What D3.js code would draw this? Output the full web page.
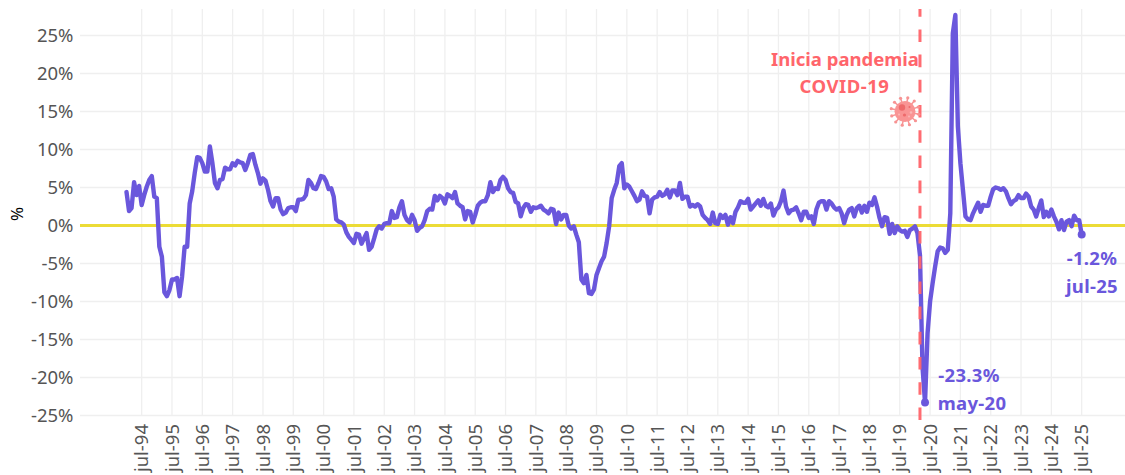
<!DOCTYPE html>
<html><head><meta charset="utf-8">
<script src="https://cdn.jsdelivr.net/npm/d3@7"></script>
<style>html,body{margin:0;padding:0;background:#fff;overflow:hidden}svg{display:block}text{font-family:"Noto Sans",sans-serif}</style>
</head><body><div id="chart"></div>
<script>
const startYear = 1994;
const values = [
 4.4,1.9,2.3,5.7,4.0,5.2,2.7,4.0,5.1,6.0,6.5,3.8,
 3.6,-2.8,-4.1,-8.8,-9.3,-8.5,-7.1,-7.1,-6.9,-9.3,-6.7,-2.8,
 -2.8,2.9,4.5,6.9,9.0,8.9,8.2,7.1,7.1,10.4,8.2,5.6,
 4.9,6.0,6.1,7.6,7.4,7.4,8.2,7.9,8.5,8.3,8.2,7.3,
 8.2,9.3,9.4,8.0,6.9,5.5,6.2,5.9,4.7,3.2,2.5,3.6,
 3.6,2.1,1.5,1.7,2.3,2.4,2.4,1.9,3.4,3.4,3.5,4.0,
 6.0,5.6,4.9,4.8,5.6,6.5,6.4,5.8,4.8,4.9,3.8,0.8,
 0.5,0.4,0.1,-0.9,-1.5,-1.9,-2.3,-1.1,-1.2,-2.4,-1.7,-1.0,
 -3.2,-2.8,-1.7,-0.5,-0.1,-0.4,0.2,0.3,0.3,1.9,1.0,1.1,
 2.4,3.2,1.4,0.7,0.4,1.4,0.7,-0.7,-0.3,-0.1,0.7,1.9,
 2.2,2.1,3.9,3.3,3.9,3.6,2.9,4.1,3.9,3.6,4.4,2.9,
 2.6,2.4,0.8,1.9,1.8,0.4,1.4,2.6,3.0,3.2,3.2,4.0,
 5.7,4.4,4.9,4.8,6.0,6.4,6.0,4.9,4.4,4.3,3.1,2.9,
 1.2,2.3,2.8,2.7,1.8,2.4,2.3,2.4,2.6,2.1,1.9,1.6,
 2.2,2.1,0.2,1.7,0.8,1.4,1.4,0.0,-0.4,-0.1,-1.2,-2.2,
 -7.1,-7.6,-6.5,-8.9,-9.0,-8.4,-6.5,-5.6,-4.7,-4.1,-2.3,-0.1,
 3.6,4.7,5.6,7.8,8.2,4.9,5.4,5.1,4.5,3.9,3.2,3.4,
 4.5,3.9,3.8,1.6,3.4,3.7,3.8,4.4,3.9,4.1,4.7,3.7,
 4.6,4.6,4.0,5.6,3.5,3.8,3.8,2.5,2.7,2.5,2.8,2.5,
 1.4,1.0,0.7,0.2,1.7,0.3,0.2,1.4,1.0,1.4,0.1,1.1,
 0.3,1.8,2.4,3.2,3.0,3.0,3.5,2.1,2.5,2.9,3.3,2.6,
 3.5,2.6,2.4,2.9,1.3,2.1,2.4,3.2,4.6,2.5,1.6,2.0,
 2.1,2.4,1.6,0.7,1.8,1.8,1.0,1.2,0.2,2.1,3.0,3.2,
 3.2,2.1,3.2,2.9,2.4,2.1,2.3,1.6,0.3,1.4,2.1,2.3,
 1.2,2.3,2.6,1.7,2.6,1.8,3.0,2.7,3.7,2.5,1.0,-0.1,
 1.1,1.0,-1.1,0.2,-1.0,-0.1,-0.6,-0.8,-0.7,-1.5,-0.6,-0.4,
 -0.1,-1.0,-3.9,-18.6,-23.3,-14.2,-10.0,-7.6,-5.4,-3.4,-2.9,-3.0,
 -3.6,-3.2,1.6,25.3,27.7,13.0,8.2,4.7,1.2,0.8,0.7,1.6,
 2.3,3.0,1.8,2.7,2.6,2.6,3.8,4.8,5.0,4.9,4.7,4.9,
 4.5,3.6,2.8,3.2,3.4,4.0,3.6,3.6,4.2,3.8,2.5,2.1,
 1.2,2.3,3.3,1.1,1.8,1.2,2.1,1.2,0.5,-0.5,0.7,-0.6,
 0.5,0.7,-0.1,1.3,0.7,0.7,-1.2
];
const yTicks = [-25,-20,-15,-10,-5,0,5,10,15,20,25];
const tickYears = d3.range(1994, 2026);
const pandemicIndex = (2020-startYear)*12+2;   // mar-20
const annotated = [{year:2020,month:4},{year:2025,month:6}];

const W=1125,H=475, panel={l:80,r:1125,t:9,b:416};
const x=d3.scaleLinear().domain([0,378]).range([126.5,1081.7]);
const y=d3.scaleLinear().domain([-25,25]).range([415.5,35.5]);
const idx=(yr,m)=>(yr-startYear)*12+m;
const purple="#6a57dc", red="#ff656b", grid="#efefef", axisTxt="#555555";

const svg=d3.select("#chart").append("svg").attr("width",W).attr("height",H);

// grid
svg.append("g").selectAll("line").data(yTicks).join("line")
  .attr("x1",panel.l).attr("x2",panel.r).attr("y1",d=>y(d)).attr("y2",d=>y(d))
  .attr("stroke",grid).attr("stroke-width",1.3);
svg.append("g").selectAll("line").data(tickYears).join("line")
  .attr("x1",d=>x(idx(d,6))).attr("x2",d=>x(idx(d,6))).attr("y1",panel.t).attr("y2",panel.b)
  .attr("stroke",grid).attr("stroke-width",1.3);

// axes
const yAxis=d3.axisLeft(y).tickValues(yTicks).tickSize(0).tickPadding(0).tickFormat(d=>d+"%");
const gy=svg.append("g").attr("transform",`translate(73.5,0)`).call(yAxis);
gy.select(".domain").remove();
gy.selectAll("text").attr("font-size",18.5).attr("fill",axisTxt).attr("style",'font-family:"Noto Sans"');

const xAxis=d3.axisBottom(x).tickValues(tickYears.map(d=>idx(d,6))).tickSize(0)
  .tickFormat(i=>"jul-"+String(startYear+Math.floor(i/12)).slice(2));
const gx=svg.append("g").call(xAxis);
gx.select(".domain").remove();
gx.selectAll("g.tick").attr("transform",d=>`translate(${x(d)},424)`);
gx.selectAll("text").attr("font-size",18.5).attr("fill",axisTxt)
  .attr("transform","rotate(-90)").attr("text-anchor","end").attr("x",0).attr("y",0).attr("dy","0.36em")
  .attr("style",'font-family:"Noto Sans"');

svg.append("text").attr("transform",`translate(23,214) rotate(-90)`)
  .attr("text-anchor","middle").attr("font-size",17).attr("fill","#000").text("%");

// zero line
svg.append("line").attr("x1",panel.l).attr("x2",panel.r).attr("y1",y(0)).attr("y2",y(0))
  .attr("stroke","#ecdc36").attr("stroke-width",3);

// series
const line=d3.line().x((d,i)=>x(i)).y(d=>y(d)).curve(d3.curveLinear);
svg.append("path").datum(values).attr("d",line).attr("fill","none")
  .attr("stroke",purple).attr("stroke-width",4.4).attr("stroke-linejoin","round").attr("stroke-linecap","round");

// pandemic marker (dashes run upwards from the bottom)
svg.append("line").attr("x1",x(pandemicIndex)).attr("x2",x(pandemicIndex)).attr("y1",420).attr("y2",panel.t)
  .attr("stroke",red).attr("stroke-width",3).attr("stroke-dasharray","12.6 12.6").attr("opacity",.95);

// end points
svg.append("g").selectAll("circle").data(annotated).join("circle")
  .attr("cx",d=>x(idx(d.year,d.month))).attr("cy",d=>y(values[idx(d.year,d.month)]))
  .attr("r",4).attr("fill",purple);

// annotation texts
const lab=(t,cx,cy,fill,size=18.5,ls=0)=>svg.append("text").attr("x",cx).attr("y",cy)
  .attr("text-anchor","middle").attr("dy","0.35em").attr("font-size",size).attr("font-weight",700)
  .attr("letter-spacing",ls).attr("fill",fill).text(t);
lab("Inicia pandemia",845,60,red,18.5,0);
lab("COVID-19",844.5,87,red,18.5,.5);
lab("-23.3%",969,376,purple,18.5,.3);
lab("may-20",972,404,purple,18.5,.3);
lab("-1.2%",1092,259,purple,18.5,.3);
lab("jul-25",1092,287,purple,18.5,.3);

// virus icon
const v=svg.append("g").attr("transform","translate(905,111.5)");
d3.range(0,12).forEach(k=>{
  const a=k/12*2*Math.PI+.2;
  v.append("line").attr("x1",Math.cos(a)*9).attr("y1",Math.sin(a)*9).attr("x2",Math.cos(a)*14).attr("y2",Math.sin(a)*14)
    .attr("stroke","#f79393").attr("stroke-width",1.5);
  v.append("circle").attr("cx",Math.cos(a)*14).attr("cy",Math.sin(a)*14).attr("r",1.6).attr("fill","#f79393");
});
v.append("circle").attr("r",10.5).attr("fill","#f99494");
v.append("circle").attr("cx",-3).attr("cy",-4).attr("r",3.2).attr("fill","#ee6a6b");
v.append("circle").attr("cx",-.5).attr("cy",3.5).attr("r",1.6).attr("fill","#ee6a6b");
v.append("circle").attr("cx",4.5).attr("cy",-4.5).attr("r",1).attr("fill","#ee6a6b");
v.append("circle").attr("cx",6).attr("cy",1).attr("r",1.3).attr("fill","#fbb6b6");
v.append("circle").attr("cx",4).attr("cy",5).attr("r",1).attr("fill","#fbb6b6");
v.append("circle").attr("cx",-6).attr("cy",3).attr("r",1).attr("fill","#fbb6b6");
</script></body></html>
